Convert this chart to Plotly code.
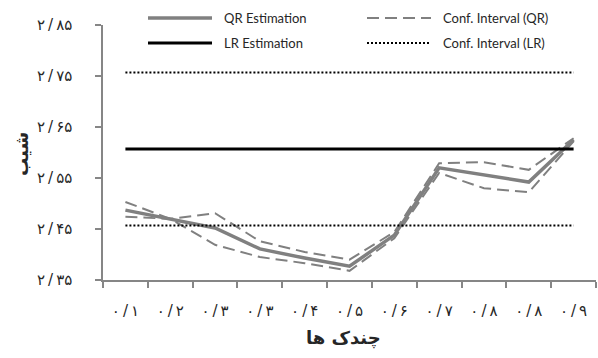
import plotly.graph_objects as go

# Quantile categories (x axis) and slope estimates
quantile_labels = ['۰/۱', '۰/۲', '۰/۳', '۰/۳', '۰/۴', '۰/۵', '۰/۶', '۰/۷', '۰/۸', '۰/۸', '۰/۹']
qr_estimation = [2.487, 2.470, 2.452, 2.411, 2.393, 2.377, 2.438, 2.570, 2.556, 2.542, 2.625]
qr_ci_upper = [2.474, 2.470, 2.481, 2.426, 2.405, 2.390, 2.444, 2.579, 2.581, 2.566, 2.628]
qr_ci_lower = [2.503, 2.470, 2.419, 2.395, 2.383, 2.368, 2.432, 2.560, 2.530, 2.522, 2.622]
lr_estimation = 2.607
lr_ci_lower = 2.457
lr_ci_upper = 2.757

slope_ticks = [2.35, 2.45, 2.55, 2.65, 2.75, 2.85]
slope_tick_labels = ['۲/۳۵', '۲/۴۵', '۲/۵۵', '۲/۶۵', '۲/۷۵', '۲/۸۵']

x = list(range(len(quantile_labels)))
n = len(x)

GREY = '#808080'
AXIS = '#868686'
TEXT = '#262626'
FONT = 'Lato, DejaVu Sans, sans-serif'
FA_FONT = 'DejaVu Sans, sans-serif'


def spaced(label):
    # a little air around the decimal slash
    return label.replace('/', '\u2009/\u2009')


styles = {
    'QR Estimation': dict(color=GREY, width=3.5),
    'Conf. Interval (QR)': dict(color=GREY, width=2, dash='12px,6px'),
    'LR Estimation': dict(color='black', width=3),
    'Conf. Interval (LR)': dict(color='black', width=2, dash='2px,2px'),
}

fig = go.Figure()
fig.add_trace(go.Scatter(x=x, y=qr_estimation, mode='lines', name='QR Estimation',
                         line=styles['QR Estimation'], showlegend=False))
fig.add_trace(go.Scatter(x=x, y=qr_ci_upper, mode='lines', name='Conf. Interval (QR)',
                         line=styles['Conf. Interval (QR)'], showlegend=False))
fig.add_trace(go.Scatter(x=x, y=qr_ci_lower, mode='lines', name='Conf. Interval (QR)',
                         line=styles['Conf. Interval (QR)'], showlegend=False))
fig.add_trace(go.Scatter(x=x, y=[lr_estimation] * n, mode='lines', name='LR Estimation',
                         line=styles['LR Estimation'], showlegend=False))
fig.add_trace(go.Scatter(x=x, y=[lr_ci_upper] * n, mode='lines', name='Conf. Interval (LR)',
                         line=styles['Conf. Interval (LR)'], showlegend=False))
fig.add_trace(go.Scatter(x=x, y=[lr_ci_lower] * n, mode='lines', name='Conf. Interval (LR)',
                         line=styles['Conf. Interval (LR)'], showlegend=False))

W, H = 598, 358
L, R, T, B = 103, 2, 25, 78
pw, ph = W - L - R, H - T - B


def px_x(px):
    return (px - L) / pw


def px_y(py):
    return (H - B - py) / ph


# Two-column legend above the plot area
legend_rows = [
    [('QR Estimation', 148, 18), ('Conf. Interval (QR)', 367, 18)],
    [('LR Estimation', 148, 43), ('Conf. Interval (LR)', 367, 43)],
]
shapes = []
annotations = []
for row in legend_rows:
    for name, x0, y0 in row:
        st = styles[name]
        shapes.append(dict(type='line', xref='paper', yref='paper',
                           x0=px_x(x0), x1=px_x(x0 + 64), y0=px_y(y0), y1=px_y(y0),
                           line=st))
        annotations.append(dict(text=name, xref='paper', yref='paper',
                                x=px_x(x0 + 74), y=px_y(y0), xanchor='left', yanchor='middle',
                                showarrow=False, font=dict(family=FONT, size=13, color=TEXT)))

# Axis titles
annotations.append(dict(text='<b>چندک ها</b>', xref='paper', yref='paper', x=px_x(343), y=px_y(338),
                        xanchor='center', yanchor='middle', showarrow=False,
                        font=dict(family=FA_FONT, size=18, color=TEXT)))
annotations.append(dict(text='<b>شیب</b>', xref='paper', yref='paper', x=px_x(21), y=px_y(154),
                        xanchor='center', yanchor='middle', textangle=-90, showarrow=False,
                        font=dict(family=FA_FONT, size=18, color=TEXT)))

fig.update_layout(
    width=W, height=H,
    margin=dict(l=L, r=R, t=T, b=B),
    plot_bgcolor='white', paper_bgcolor='white',
    showlegend=False,
    shapes=shapes,
    annotations=annotations,
    xaxis=dict(
        range=[-0.5, n - 0.5],
        tickmode='array', tickvals=x, ticktext=[spaced(t) for t in quantile_labels],
        ticks='', showgrid=False, zeroline=False,
        showline=True, linecolor=AXIS, linewidth=1.5,
        ticklabelstandoff=16,
        tickfont=dict(family=FA_FONT, size=15, color=TEXT),
        minor=dict(tick0=-0.5, dtick=1, ticks='outside', ticklen=6,
                   tickwidth=1.5, tickcolor=AXIS, showgrid=False),
    ),
    yaxis=dict(
        range=[2.35, 2.85],
        tickmode='array', tickvals=slope_ticks, ticktext=[spaced(t) for t in slope_tick_labels],
        ticks='outside', ticklen=6, tickwidth=1.5, tickcolor=AXIS,
        showgrid=False, zeroline=False,
        showline=True, linecolor=AXIS, linewidth=1.5,
        ticklabelstandoff=20,
        tickfont=dict(family=FA_FONT, size=15, color=TEXT),
    ),
)

fig.write_html('out.html')
